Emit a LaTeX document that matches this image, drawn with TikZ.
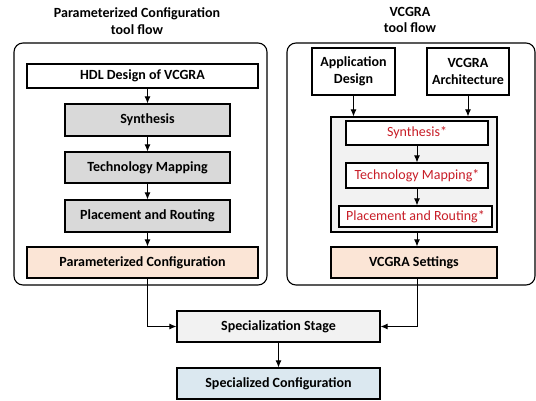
\documentclass[tikz,border=0pt]{standalone}
\usepackage{fontspec}
\setmainfont{Carlito}
\usetikzlibrary{arrows.meta}
\definecolor{peach}{RGB}{251,229,214}
\definecolor{lightgrey}{RGB}{217,217,217}
\definecolor{palegrey}{RGB}{242,242,242}
\definecolor{paleblue}{RGB}{219,232,240}
\definecolor{darkred}{RGB}{200,30,40}
\tikzset{
    box/.style={draw, line width=1.1pt, align=center, inner sep=1pt, font=\fontsize{14}{17}\selectfont\bfseries},
    redbox/.style={draw, line width=1.1pt, fill=white, inner sep=1pt, text=darkred, font=\fontsize{14}{17}\selectfont},
    frame/.style={draw, line width=1.1pt, rounded corners=9pt},
    flow/.style={-{Latex[length=7pt,width=6pt]}, line width=1pt}
}

\begin{document}
\begin{tikzpicture}[x=1pt, y=-1pt]
    \useasboundingbox (0,0) rectangle (536,400);

    % Draw the two tool flows
    \draw[frame] (14,43) rectangle (267,285);
    \draw[frame] (287,43) rectangle (535,285);
    \node[align=center, font=\fontsize{14}{16.5}\selectfont\bfseries] (ltitle) at (137,21) {Parameterized Configuration\\tool flow};
    \node[align=center, font=\fontsize{14}{16.5}\selectfont\bfseries] (rtitle) at (410,20) {VCGRA\\tool flow};

    % Nodes in the parameterized flow
    \node[box, minimum width=231, minimum height=24] (hdl) at (142.5,76) {HDL Design of VCGRA};
    \node[box, fill=lightgrey, minimum width=165, minimum height=32] (syn) at (147.5,120) {Synthesis};
    \node[box, fill=lightgrey, minimum width=165, minimum height=31] (tech) at (147.5,167.5) {Technology Mapping};
    \node[box, fill=lightgrey, minimum width=165, minimum height=32] (pnr) at (147.5,216) {Placement and Routing};
    \node[box, fill=peach, minimum width=231, minimum height=31] (pconf) at (142.5,262.5) {Parameterized Configuration};

    % Nodes in the VCGRA flow
    \node[box, minimum width=83, minimum height=47] (app) at (353.5,71.5) {Application\\Design};
    \node[box, minimum width=82, minimum height=47] (arch) at (468,71.5) {VCGRA\\Architecture};
    \node[draw, line width=1.1pt, fill=palegrey, minimum width=166, minimum height=115] (mapper) at (414,174.5) {};
    \node[redbox, minimum width=142, minimum height=24] (vsyn) at (417,133) {Synthesis*};
    \node[redbox, minimum width=142, minimum height=25] (vtech) at (417,175.5) {Technology Mapping*};
    \node[redbox, minimum width=153, minimum height=21] (vpnr) at (415.5,216.5) {Placement and Routing*};
    \node[box, fill=peach, minimum width=166, minimum height=31] (vset) at (414,262.5) {VCGRA Settings};

    % Nodes below
    \node[box, fill=palegrey, minimum width=203, minimum height=31] (stage) at (278.5,326.5) {Specialization Stage};
    \node[box, fill=paleblue, minimum width=203, minimum height=31] (spec) at (278.5,383.5) {Specialized Configuration};

    % Arrows
    \draw[flow] (hdl.south -| syn.north) -- (syn);
    \draw[flow] (syn) -- (tech);
    \draw[flow] (tech) -- (pnr);
    \draw[flow] (pnr.south) -- (pconf.north -| pnr.south);
    \draw[flow] (app.south) -- (app.south |- mapper.north);
    \draw[flow] (arch.south) -- (arch.south |- mapper.north);
    \draw[flow] (vsyn) -- (vtech);
    \draw[flow] (vtech.south) -- (vpnr.north -| vtech.south);
    \draw[flow] (mapper.south -| vsyn.south) -- (vset.north -| vsyn.south);
    \draw[flow] (pconf.south -| pnr.south) |- (stage.west);
    \draw[flow] (vset.south -| vsyn.south) |- (stage.east);
    \draw[flow] (stage) -- (spec);

\end{tikzpicture}
\end{document}
